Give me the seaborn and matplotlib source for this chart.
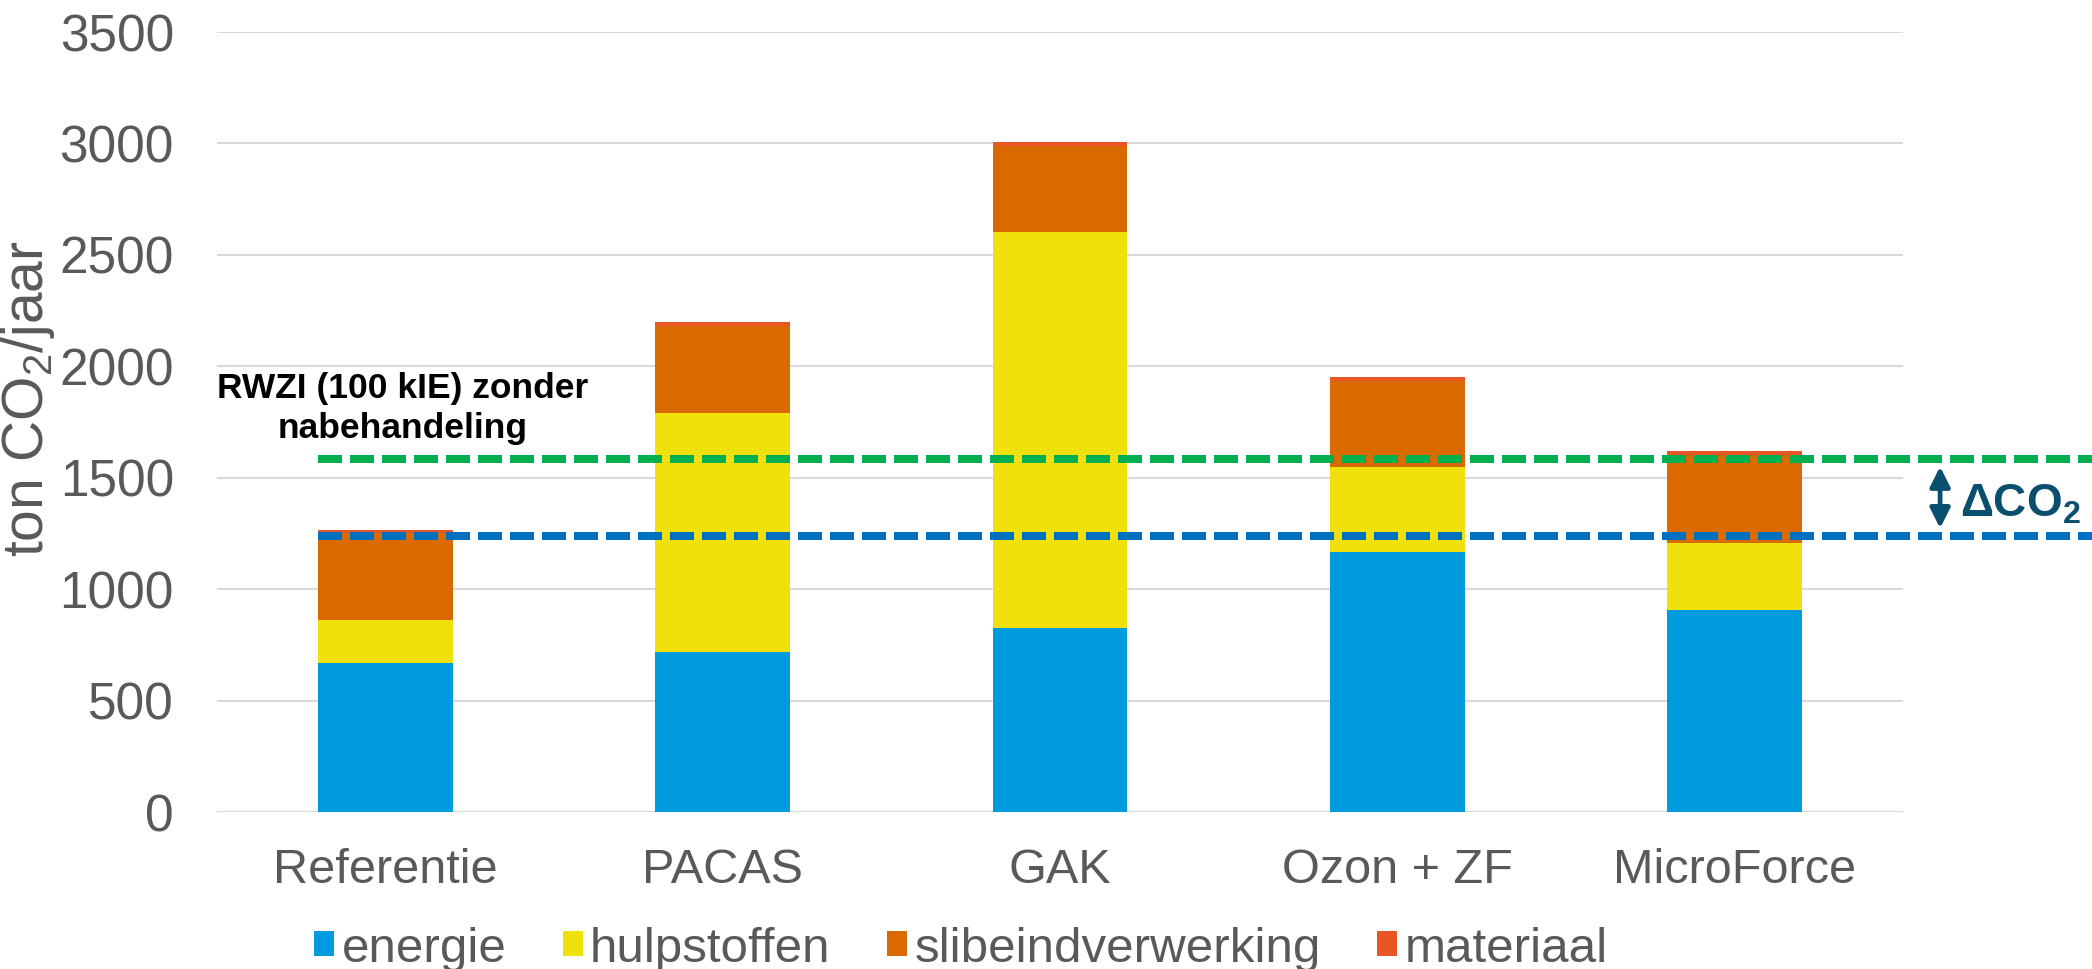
import matplotlib
matplotlib.use("Agg")
import matplotlib.pyplot as plt
from matplotlib.patches import Patch
from matplotlib import transforms
import numpy as np
import pandas as pd
import seaborn as sns

# --- data -------------------------------------------------------------
categories = ["Referentie", "PACAS", "GAK", "Ozon + ZF", "MicroForce"]
energie = [668, 717, 824, 1167, 907]
hulpstoffen = [194, 1072, 1779, 383, 300]
slibeindverwerking = [391, 390, 386, 382, 393]
materiaal = [12, 19, 18, 21, 19]

series_names = ["energie", "hulpstoffen", "slibeindverwerking", "materiaal"]
series_colors = ["#009BDE", "#F0E00C", "#DA6A00", "#EA5526"]

rwzi_zonder_nabehandeling = 1583   # green reference level
referentie_niveau = 1240           # blue reference level

yticks = [0, 500, 1000, 1500, 2000, 2500, 3000, 3500]

# --- style ------------------------------------------------------------
sns.set_theme(style="white")
plt.rcParams["font.family"] = ["Liberation Sans", "DejaVu Sans"]
plt.rcParams["mathtext.fontset"] = "custom"
plt.rcParams["mathtext.rm"] = "Liberation Sans"
plt.rcParams["mathtext.bf"] = "Liberation Sans:bold"
plt.rcParams["mathtext.default"] = "regular"

GREY = "#595959"
W, H = 2092, 969
fig = plt.figure(figsize=(W / 100, H / 100), dpi=100)
ax = fig.add_axes([217 / W, 1 - 812 / H, (1903 - 217) / W, (812 - 32) / H])

# stacked bars: draw cumulative totals from the top layer downwards
df = pd.DataFrame({"categorie": categories, "energie": energie,
                   "hulpstoffen": hulpstoffen,
                   "slibeindverwerking": slibeindverwerking,
                   "materiaal": materiaal})
cum = df[series_names].cumsum(axis=1)
bar_width = 0.4
for name, col in reversed(list(zip(series_names, series_colors))):
    sns.barplot(x=df["categorie"], y=cum[name], color=col, width=bar_width,
                saturation=1, errorbar=None, order=categories, ax=ax,
                linewidth=0, zorder=2)

ax.set_xlim(-0.5, len(categories) - 0.5)
ax.set_ylim(0, 3500)
ax.set_yticks(yticks)
ax.yaxis.grid(True, color="#D9D9D9", linewidth=1.5, zorder=0)
ax.xaxis.grid(False)
ax.set_axisbelow(True)
for s in ax.spines.values():
    s.set_visible(False)
ax.tick_params(axis="y", length=0, pad=31, labelsize=37, labelcolor=GREY)
ax.tick_params(axis="x", length=0, pad=26, labelsize=35, labelcolor=GREY)
ax.set_xlabel("")
ax.set_ylabel("ton CO$_2$/jaar", fontsize=41, color=GREY, va="center")
ax.yaxis.set_label_coords(-0.112, 0.53)

# dashed reference lines, running out to the right edge of the figure
x_start = -bar_width / 2
x_end = ax.transData.inverted().transform(fig.transFigure.transform((1, 0)))[0]
for level, col in [(rwzi_zonder_nabehandeling, "#00B050"),
                   (referentie_niveau, "#0070C0")]:
    ax.plot([x_start, x_end], [level, level], color=col, lw=5.76,
            linestyle=(0, (3, 1)), clip_on=False, zorder=4,
            solid_capstyle="butt", dash_capstyle="butt")

bt = transforms.blended_transform_factory(ax.transAxes, ax.transData)
ax.text(0.110, 1647, "RWZI (100 kIE) zonder\nnabehandeling", transform=bt,
        ha="center", va="bottom", fontsize=25.5, fontweight="bold",
        color="black", linespacing=1.25, zorder=5)

# delta annotation between the two reference lines
DELTA = "#0B4F70"
gap = 33
ax.annotate("", xy=(1.022, referentie_niveau + gap), xycoords=bt,
            xytext=(1.022, rwzi_zonder_nabehandeling - gap), textcoords=bt,
            arrowprops=dict(arrowstyle="<|-|>,head_length=0.6,head_width=0.3",
                            color=DELTA, lw=3.4, mutation_scale=20,
                            shrinkA=0, shrinkB=0))
ax.text(1.034, (rwzi_zonder_nabehandeling + referentie_niveau) / 2 - 30,
        r"ΔCO$\mathbf{_2}$", transform=bt, ha="left", va="center",
        fontsize=33, fontweight="bold", color=DELTA, clip_on=False)

handles = [Patch(facecolor=c, edgecolor="none", label=n)
           for n, c in zip(series_names, series_colors)]
leg = fig.legend(handles=handles, loc="center", ncol=4,
                 bbox_to_anchor=(961 / W, 1 - 949 / H), frameon=False,
                 fontsize=35.5, handlelength=0.4, handleheight=0.4,
                 handletextpad=0.15, columnspacing=1.15, borderpad=0,
                 borderaxespad=0)
for t in leg.get_texts():
    t.set_color(GREY)

fig.savefig("out.png", dpi=100, facecolor="white")
